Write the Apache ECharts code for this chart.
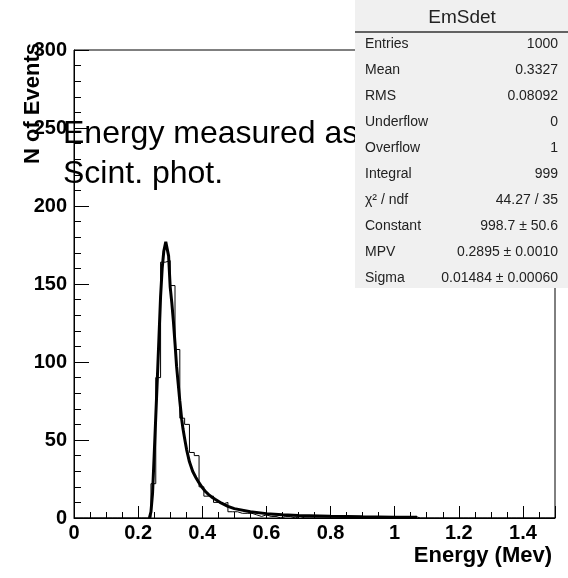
<!DOCTYPE html>
<html>
<head>
<meta charset="utf-8">
<script src="https://cdn.jsdelivr.net/npm/echarts@6/dist/echarts.min.js"></script>
<style>
html,body{margin:0;padding:0;background:#fff;}
#chart{width:568px;height:578px;}
</style>
</head>
<body>
<div id="chart"></div>
<script>
// ---- Data ----
const histMin = 0;
const histMax = 1.5;
// bin contents, 100 bins from 0 to 1.5
const counts = [
  0,0,0,0,0,0,0,0,0,0,
  0,0,0,0,0,0,22,90,164,165,
  149,108,64,60,42,40,20,14,14,10,
  9,10,4,4,3,3,3,2,1,2,
  1,1,0,1,1,0,1,0,0,0,
  0,0,0,0,0,0,0,0,0,0,
  0,0,0,0,0,0,0,0,0,0,
  1,0,0,0,0,0,0,0,0,0,
  0,0,0,0,0,0,0,0,0,0,
  0,0,0,0,0,0,0,0,0,0
];
// Landau fit curve
const fitX = [0.235,0.240,0.245,0.250,0.255,0.260,0.265,0.270,0.275,0.280,0.2862,0.290,0.295,0.300,0.305,0.310,0.315,0.320,0.325,0.330,0.336,0.340,0.345,0.351,0.360,0.370,0.380,0.387,0.400,0.410,0.420,0.429,0.440,0.460,0.480,0.500,0.550,0.600,0.650,0.700,0.800,0.900,1.000,1.070];
const fitY = [0,4,16,40,65,90,116,142,160,171,177,176,168,148,138,126,112,97,86,75,63,57,51,44,36,30,26,23.5,19.5,17,15,13.5,12,9.5,7.5,6,4,2.8,2.1,1.6,1.1,0.75,0.55,0.45];
const xTickLabels = [0,0.2,0.4,0.6,0.8,1,1.2,1.4];
const yTickLabels = [0,50,100,150,200,250,300];
const statTitle = 'EmSdet';
const statLabels = ['Entries','Mean','RMS','Underflow','Overflow','Integral','χ² / ndf','Constant','MPV','Sigma'];
const statValues = ['1000','0.3327','0.08092','0','1','999','44.27 / 35','998.7 ± 50.6','0.2895 ± 0.0010','0.01484 ± 0.00060'];
const noteLines = ['Energy measured as','Scint. phot.'];
const xTitle = 'Energy (Mev)';
const yTitle = 'N of Events';

// ---- Build ----
const nb = counts.length;
const bw = (histMax - histMin) / nb;
const histData = [];
for (let i = 0; i < nb; i++) histData.push([histMin + i * bw, counts[i]]);
histData.push([histMax, counts[nb - 1]]);
const fitData = fitX.map((x, i) => [x, fitY[i]]);

const FONT = "'Liberation Sans', Arial, Helvetica, sans-serif";
const chart = echarts.init(document.getElementById('chart'), null, {renderer: 'canvas'});

const statElems = [];
statElems.push({type:'rect', shape:{x:355, y:0, width:213, height:288}, style:{fill:'#f0f0f0'}, z:100});
statElems.push({type:'line', shape:{x1:355, y1:32, x2:568, y2:32}, style:{stroke:'#333', lineWidth:1.5}, z:101});
statElems.push({type:'text', x:462, y:18, style:{text:statTitle, font:'19px ' + FONT, fill:'#222', align:'center', verticalAlign:'middle'}, z:101});
statLabels.forEach((l, i) => {
  const yy = 44 + i * 26;
  statElems.push({type:'text', x:365, y:yy, style:{text:l, font:'14px ' + FONT, fill:'#222', align:'left', verticalAlign:'middle'}, z:101});
  statElems.push({type:'text', x:558, y:yy, style:{text:statValues[i], font:'14px ' + FONT, fill:'#222', align:'right', verticalAlign:'middle'}, z:101});
});

const option = {
  animation: false,
  backgroundColor: '#fff',
  grid: {left:74, right:13, top:50, bottom:60, show:true, borderColor:'#000', borderWidth:1, backgroundColor:'transparent'},
  xAxis: [
    {
      type:'value', min:histMin, max:histMax, interval:0.2, position:'bottom',
      axisLine:{show:true, onZero:false, lineStyle:{color:'#000', width:1}},
      axisTick:{show:true, inside:true, length:12, lineStyle:{color:'#000', width:1}},
      axisLabel:{show:true, customValues:xTickLabels, margin:5, color:'#000', fontFamily:FONT, fontWeight:'bold', fontSize:20},
      splitLine:{show:false}
    },
    {
      type:'value', min:histMin, max:histMax, interval:0.05, position:'bottom', offset:0,
      axisLine:{show:false},
      axisTick:{show:true, inside:true, length:6, lineStyle:{color:'#000', width:1}},
      axisLabel:{show:false},
      splitLine:{show:false}
    }
  ],
  yAxis: {
    type:'value', min:0, max:300, interval:50,
    axisLine:{show:true, onZero:false, lineStyle:{color:'#000', width:1}},
    axisTick:{show:true, inside:true, length:15, lineStyle:{color:'#000', width:1}},
    minorTick:{show:true, splitNumber:5, length:7, lineStyle:{color:'#000', width:1}},
    axisLabel:{show:true, customValues:yTickLabels, margin:7, color:'#000', fontFamily:FONT, fontWeight:'bold', fontSize:20},
    splitLine:{show:false}, minorSplitLine:{show:false}
  },
  series: [
    {
      type:'line', xAxisIndex:0, step:'end', data:histData, symbol:'none', clip:true,
      lineStyle:{color:'#000', width:1}, z:3
    },
    {
      type:'line', xAxisIndex:0, data:fitData, symbol:'none', smooth:false, clip:true,
      lineStyle:{color:'#000', width:3}, z:4
    }
  ],
  graphic: [
    {type:'text', x:63, y:118, z:50, style:{text:noteLines[0], font:'32px ' + FONT, fill:'#000', align:'left', verticalAlign:'alphabetic'}},
    {type:'text', x:63, y:158, z:50, style:{text:noteLines[1], font:'32px ' + FONT, fill:'#000', align:'left', verticalAlign:'alphabetic'}},
    {type:'text', x:552, y:556, z:50, style:{text:xTitle, font:'bold 22px ' + FONT, fill:'#000', align:'right', verticalAlign:'middle'}},
    {type:'text', x:33, y:43, rotation:Math.PI/2, z:50, style:{text:yTitle, font:'bold 22px ' + FONT, fill:'#000', align:'right', verticalAlign:'middle'}},
    {type:'group', z:100, children: statElems}
  ]
};
chart.setOption(option);
</script>
</body>
</html>
